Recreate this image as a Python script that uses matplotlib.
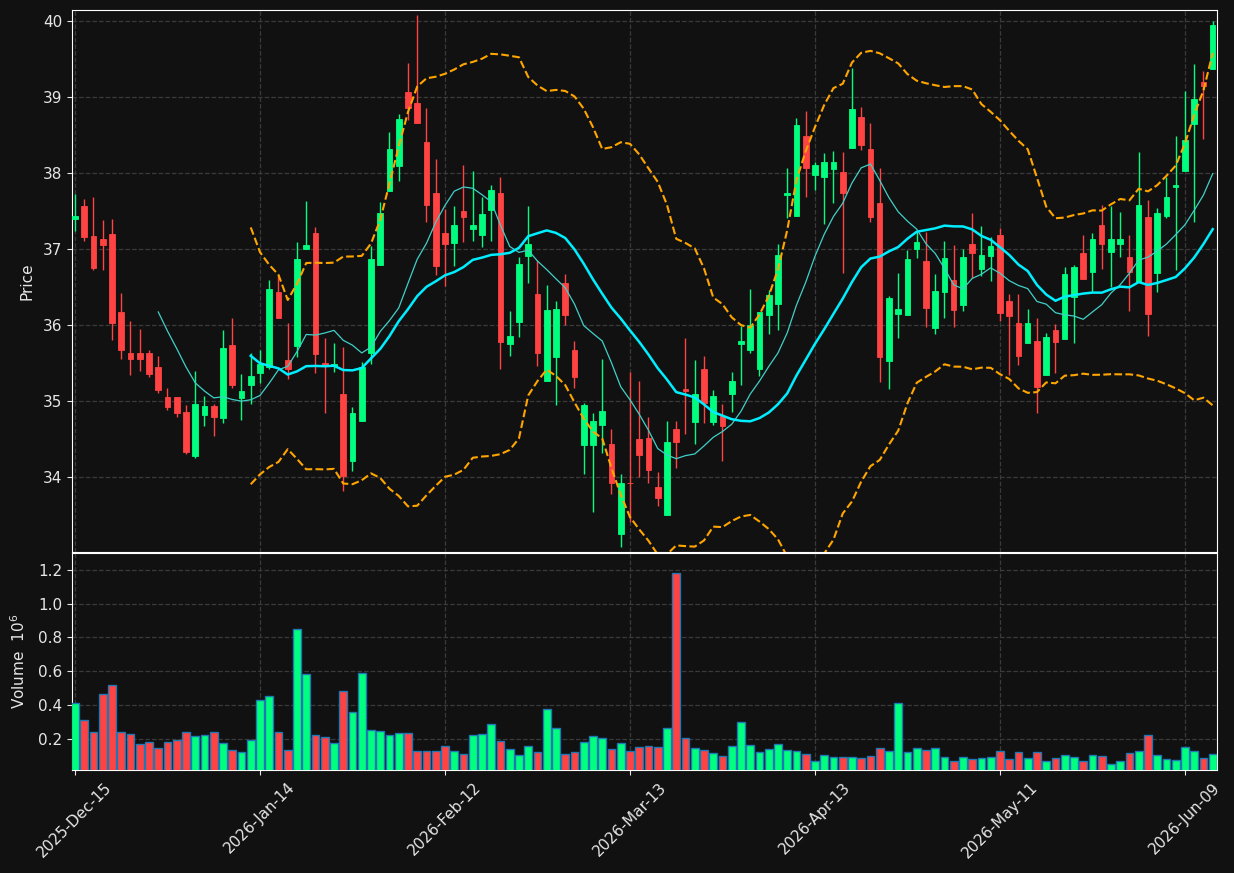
import numpy as np
import pandas as pd
import matplotlib
matplotlib.use("Agg")
import matplotlib.pyplot as plt

# ---- data ----
opens = [37.40, 37.56, 37.17, 37.13, 37.20, 36.17, 35.63, 35.63, 35.63, 35.45,
         35.05, 35.05, 34.86, 34.28, 34.82, 34.94, 34.78, 35.74, 35.04, 35.21,
         35.37, 35.45, 36.43, 35.54, 35.72, 37.00, 37.21, 35.50, 35.47, 35.10,
         34.21, 34.74, 35.63, 36.79, 37.76, 38.09, 39.06, 38.92, 38.40, 37.74,
         37.21, 37.08, 37.50, 37.26, 37.18, 37.51, 37.74, 35.75, 36.04, 36.91,
         36.41, 35.26, 35.58, 36.56, 35.67, 34.42, 34.42, 34.69, 34.44, 33.25,
         33.93, 34.50, 34.52, 33.88, 33.51, 34.63, 35.16, 34.73, 35.43, 34.73,
         34.81, 35.10, 35.75, 35.68, 35.42, 36.13, 36.28, 37.71, 37.43, 38.48,
         37.97, 37.95, 38.05, 38.01, 38.33, 38.73, 38.31, 37.61, 35.53, 36.15,
         36.14, 37.00, 36.84, 35.96, 36.44, 36.59, 36.26, 37.06, 36.74, 36.91,
         37.18, 36.32, 36.03, 35.77, 35.79, 35.35, 35.93, 35.82, 36.37, 36.95,
         36.70, 37.32, 36.96, 37.07, 36.90, 36.57, 37.42, 36.68, 37.44, 37.82,
         38.02, 38.64, 39.19, 39.37]
highs = [37.72, 37.66, 37.69, 37.38, 37.39, 36.42, 36.05, 35.95, 35.67, 35.59,
         35.17, 35.05, 34.95, 35.40, 35.07, 34.97, 35.93, 36.09, 35.36, 35.64,
         35.67, 36.59, 36.66, 36.03, 37.09, 37.63, 37.29, 35.83, 35.76, 35.71,
         34.93, 35.52, 37.04, 37.62, 38.54, 38.78, 39.44, 40.07, 38.85, 38.18,
         37.52, 37.57, 38.10, 38.02, 37.68, 37.84, 37.95, 36.19, 36.89, 37.57,
         36.85, 36.53, 36.32, 36.67, 35.79, 34.98, 34.85, 35.55, 34.63, 34.04,
         35.39, 35.26, 34.79, 34.07, 34.74, 34.74, 35.83, 35.54, 35.59, 35.15,
         34.97, 35.39, 35.99, 36.48, 36.17, 36.46, 37.07, 38.06, 38.72, 38.82,
         38.14, 38.26, 38.29, 38.27, 39.38, 38.86, 38.66, 38.06, 36.38, 36.68,
         36.99, 37.23, 37.23, 36.67, 37.10, 37.05, 37.00, 37.47, 37.30, 37.16,
         37.28, 36.41, 36.41, 36.21, 36.09, 35.90, 36.02, 36.77, 36.79, 37.19,
         37.21, 37.58, 37.57, 37.49, 37.19, 38.28, 37.64, 37.54, 37.94, 38.49,
         39.08, 39.43, 39.34, 40.00]
lows = [37.24, 37.11, 36.72, 36.72, 35.80, 35.55, 35.35, 35.40, 35.32, 35.11,
        34.89, 34.79, 34.31, 34.25, 34.67, 34.54, 34.71, 35.18, 34.76, 34.96,
        35.24, 35.43, 36.09, 35.29, 35.58, 37.00, 35.37, 34.85, 35.39, 33.82,
        34.09, 34.74, 35.49, 36.79, 37.76, 37.90, 38.69, 38.65, 37.36, 36.66,
        36.51, 36.78, 37.09, 37.10, 37.03, 37.10, 35.43, 35.59, 35.85, 36.56,
        35.46, 35.26, 34.95, 36.00, 35.18, 34.05, 33.55, 34.32, 33.78, 33.08,
        33.42, 34.00, 33.93, 33.63, 33.51, 34.12, 34.57, 34.44, 34.72, 34.69,
        34.22, 34.86, 35.21, 35.63, 35.33, 35.88, 35.93, 37.41, 37.43, 37.68,
        37.78, 37.33, 37.61, 36.68, 38.33, 38.30, 37.36, 35.25, 35.16, 35.83,
        36.14, 36.88, 35.97, 35.89, 36.09, 35.97, 36.19, 36.62, 36.65, 36.58,
        36.06, 35.35, 35.48, 35.77, 34.85, 35.35, 35.37, 35.82, 35.77, 36.61,
        36.44, 36.74, 36.50, 36.90, 36.19, 36.57, 35.86, 36.44, 37.41, 36.73,
        38.02, 37.35, 38.45, 39.37]
closes = [37.44, 37.16, 36.75, 37.05, 36.03, 35.68, 35.56, 35.56, 35.36, 35.15,
          34.93, 34.85, 34.34, 34.97, 34.94, 34.79, 35.70, 35.21, 35.14, 35.33,
          35.49, 36.47, 36.10, 35.42, 36.87, 37.05, 35.62, 35.48, 35.49, 34.02,
          34.85, 35.45, 36.87, 37.47, 38.31, 38.71, 38.85, 38.65, 37.58, 36.78,
          37.06, 37.32, 37.42, 37.31, 37.46, 37.77, 35.78, 35.86, 36.80, 37.07,
          35.63, 36.20, 36.21, 36.13, 35.32, 34.95, 34.74, 34.87, 33.93, 33.93,
          33.92, 34.30, 34.10, 33.73, 34.47, 34.47, 35.14, 35.09, 34.98, 35.07,
          34.68, 35.26, 35.79, 36.00, 36.17, 36.39, 36.92, 37.73, 38.63, 38.07,
          38.10, 38.14, 38.14, 37.73, 38.84, 38.37, 37.42, 35.58, 36.36, 36.21,
          36.87, 37.09, 36.23, 36.45, 36.88, 36.20, 36.90, 36.95, 36.92, 37.04,
          36.16, 36.12, 35.60, 36.03, 35.19, 35.85, 35.78, 36.67, 36.76, 36.61,
          37.13, 37.07, 37.13, 37.13, 36.70, 37.58, 36.15, 37.47, 37.69, 37.84,
          38.43, 38.97, 39.14, 39.94]
# volume in millions
volumes = [0.411, 0.311, 0.240, 0.465, 0.518, 0.240, 0.228, 0.168, 0.180, 0.145,
           0.180, 0.192, 0.240, 0.216, 0.222, 0.240, 0.174, 0.133, 0.121, 0.192,
           0.429, 0.453, 0.240, 0.133, 0.850, 0.583, 0.222, 0.210, 0.174, 0.483,
           0.358, 0.589, 0.251, 0.245, 0.222, 0.234, 0.234, 0.127, 0.127, 0.127,
           0.157, 0.127, 0.109, 0.222, 0.228, 0.287, 0.186, 0.139, 0.103, 0.157,
           0.121, 0.376, 0.263, 0.109, 0.121, 0.180, 0.216, 0.204, 0.139, 0.174,
           0.127, 0.151, 0.157, 0.151, 0.263, 1.182, 0.204, 0.145, 0.133, 0.115,
           0.097, 0.157, 0.299, 0.162, 0.121, 0.139, 0.168, 0.133, 0.127, 0.109,
           0.068, 0.103, 0.091, 0.091, 0.091, 0.085, 0.097, 0.145, 0.127, 0.411,
           0.121, 0.145, 0.133, 0.145, 0.091, 0.068, 0.091, 0.079, 0.085, 0.091,
           0.127, 0.079, 0.121, 0.085, 0.121, 0.068, 0.085, 0.103, 0.091, 0.068,
           0.103, 0.097, 0.050, 0.068, 0.115, 0.127, 0.222, 0.103, 0.079, 0.074,
           0.151, 0.127, 0.085, 0.109]

holidays = ["2025-12-25", "2026-01-01", "2026-01-19", "2026-02-16", "2026-04-03", "2026-05-25"]
dates = pd.bdate_range("2025-12-15", "2026-06-12", freq="C", holidays=holidays)

df = pd.DataFrame({"Open": opens, "High": highs, "Low": lows,
                   "Close": closes, "Volume": volumes}, index=dates)

# indicators
df["MA10"] = df["Close"].rolling(10).mean()
df["MA20"] = df["Close"].rolling(20).mean()
std20 = df["Close"].rolling(20).std(ddof=0)
df["BB_up"] = df["MA20"] + 2 * std20
df["BB_lo"] = df["MA20"] - 2 * std20

# ---- style ----
BG = "#111111"
UP = "#00ff7f"
DOWN = "#ff4242"
GRID = "#3a3a3a"
TXT = "#e6e6e6"

fig = plt.figure(figsize=(12.34, 8.73), dpi=100, facecolor=BG)
ax = fig.add_axes([0.0583, 0.3677, 0.9279, 0.6208])
axv = fig.add_axes([0.0583, 0.1180, 0.9279, 0.2486], sharex=ax)

x = np.arange(len(df))
up = df["Close"].values >= df["Open"].values
cols = np.where(up, UP, DOWN)

# candles
ax.vlines(x, df["Low"], df["High"], colors=cols, linewidth=1, zorder=2)
body_lo = np.minimum(df["Open"], df["Close"])
body_h = np.maximum(np.abs(df["Close"] - df["Open"]), 0.01)
ax.bar(x, body_h, bottom=body_lo, width=0.6, color=cols, edgecolor=cols,
       linewidth=0.6, zorder=3)

# moving averages and bands
ax.plot(x, df["MA10"], color="#40d0c8", linewidth=0.9, zorder=4)
ax.plot(x, df["MA20"], color="#00eeff", linewidth=1.8, zorder=4)
ax.plot(x, df["BB_up"], color="#ffa500", linewidth=1.5, linestyle="--", zorder=4)
ax.plot(x, df["BB_lo"], color="#ffa500", linewidth=1.5, linestyle="--", zorder=4)

# volume
axv.bar(x, df["Volume"], width=0.85, color=cols, edgecolor="#1f77b4",
        linewidth=1.0, zorder=3)

for a in (ax, axv):
    a.set_facecolor(BG)
    a.grid(True, color=GRID, linestyle="--", linewidth=0.9, zorder=0)
    a.set_axisbelow(True)
    for s in a.spines.values():
        s.set_color("white")
    a.tick_params(colors=TXT, labelsize=11)

ax.set_xlim(-0.33, len(df) - 0.54)
ax.set_ylim(33.02, 40.14)
axv.set_ylim(0.016, 1.30)
ax.set_yticks([34, 35, 36, 37, 38, 39, 40])
axv.set_yticks([0.2, 0.4, 0.6, 0.8, 1.0, 1.2])

ticks = x[::20]
axv.set_xticks(ticks)
axv.set_xticklabels([dates[i].strftime("%Y-%b-%d") for i in ticks],
                    rotation=45, ha="center", color=TXT)
plt.setp(ax.get_xticklabels(), visible=False)
ax.tick_params(axis="x", length=0)

ax.set_ylabel("Price", color=TXT, fontsize=11)
axv.set_ylabel("Volume  $10^6$", color=TXT, fontsize=11)
ax.yaxis.set_label_coords(-0.033, 0.5)
axv.yaxis.set_label_coords(-0.038, 0.5)

fig.savefig("out.png", dpi=100, facecolor=BG)
